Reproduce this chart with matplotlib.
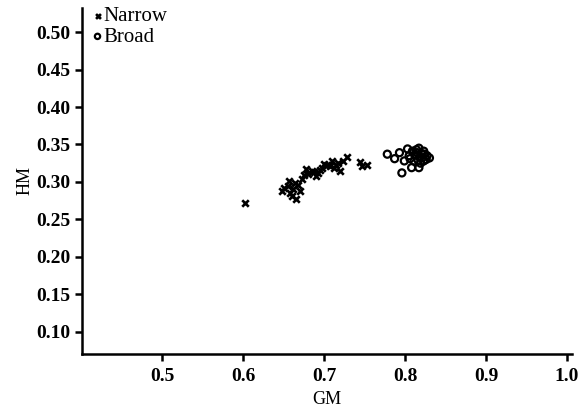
import numpy as np
import matplotlib
matplotlib.use('Agg')
import matplotlib.pyplot as plt

plt.rcParams['font.family'] = ['Liberation Serif', 'DejaVu Serif']

# Narrow
gm_narrow = [0.602, 0.648, 0.655, 0.660, 0.664, 0.657, 0.665, 0.670, 0.673, 0.680,
             0.685, 0.677, 0.692, 0.697, 0.700, 0.707, 0.710, 0.715, 0.719, 0.723,
             0.728, 0.744, 0.747, 0.753, 0.651, 0.668, 0.690, 0.712, 0.675, 0.688,
             0.703, 0.717, 0.662, 0.658, 0.695]
hm_narrow = [0.272, 0.288, 0.295, 0.281, 0.299, 0.301, 0.277, 0.288, 0.304, 0.311,
             0.315, 0.317, 0.312, 0.319, 0.324, 0.321, 0.328, 0.323, 0.315, 0.328,
             0.333, 0.327, 0.321, 0.323, 0.292, 0.296, 0.308, 0.318, 0.309, 0.313,
             0.322, 0.325, 0.291, 0.285, 0.316]

# Broad
gm_broad = [0.778, 0.787, 0.793, 0.796, 0.799, 0.805, 0.808, 0.811, 0.815, 0.817,
            0.817, 0.821, 0.823, 0.827, 0.819, 0.803, 0.809, 0.823, 0.830, 0.812,
            0.818, 0.814, 0.820, 0.824, 0.826, 0.816, 0.806]
hm_broad = [0.337, 0.331, 0.339, 0.312, 0.328, 0.335, 0.319, 0.328, 0.339, 0.345,
            0.319, 0.332, 0.341, 0.335, 0.325, 0.344, 0.341, 0.328, 0.332, 0.336,
            0.333, 0.343, 0.338, 0.337, 0.330, 0.329, 0.331]

fig = plt.figure(figsize=(5.86, 4.08), dpi=100)
ax = fig.add_axes([0.14, 0.133, 0.836, 0.847])

ax.scatter(gm_narrow, hm_narrow, marker='x', s=22, c='black', linewidths=1.9, label='Narrow')
ax.scatter(gm_broad, hm_broad, marker='o', s=26, facecolors='none', edgecolors='black',
           linewidths=1.6, label='Broad')

ax.set_xlim(0.401, 1.006)
ax.set_ylim(0.0705, 0.532)
ax.set_xticks([0.5, 0.6, 0.7, 0.8, 0.9, 1.0])
ax.set_xticklabels(['0.5', '0.6', '0.7', '0.8', '0.9', '1.0'])
ax.set_yticks(np.arange(0.10, 0.501, 0.05))
ax.set_yticklabels(['%.2f' % v for v in np.arange(0.10, 0.501, 0.05)])

for s in ['top', 'right']:
    ax.spines[s].set_visible(False)
for s in ['left', 'bottom']:
    ax.spines[s].set_linewidth(1.8)
ax.tick_params(direction='out', length=5, width=1.8, labelsize=14)
ax.tick_params(axis='x', pad=5.5)
for lab in ax.get_xticklabels() + ax.get_yticklabels():
    lab.set_fontweight('bold')

ax.set_xlabel('GM', fontsize=13, labelpad=4)
ax.set_ylabel('HM', fontsize=13, labelpad=2)

ax.legend(loc='upper left', bbox_to_anchor=(0.022, 1.005), frameon=False, fontsize=15,
          handletextpad=0.05, borderpad=0, borderaxespad=0, labelspacing=0.06,
          handlelength=0.45, markerscale=0.75, scatterpoints=1)

fig.savefig('out.png', dpi=100)
